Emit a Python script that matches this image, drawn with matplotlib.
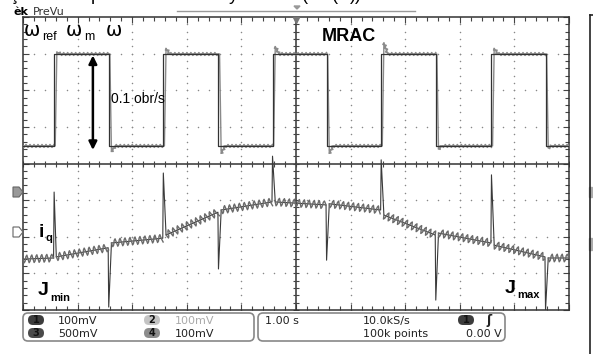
import matplotlib
matplotlib.use("Agg")
import matplotlib.pyplot as plt
import numpy as np
from matplotlib.patches import FancyBboxPatch, Polygon, Rectangle
from matplotlib.transforms import Affine2D

W, H = 593, 354

# speed traces (divisions), edges in s (1 s/div)
edges = [0.57, 1.57, 2.57, 3.58, 4.57, 5.56, 6.56, 7.56, 8.58, 9.57]
w_low = 0.48
w_high = 2.99
w_ref_t = [0.0] + edges + [10.0]
w_ref_v = [0.48, 2.99, 0.48, 2.99, 0.48, 2.99, 0.48, 2.99, 0.48, 2.99, 0.48, 0.48]
# overshoot of measured speed after each edge
w_over = [0.05, -0.15, 0.15, -0.2, 0.2, -0.2, 0.3, -0.08, 0.15, -0.05]

# iq trace (divisions): baseline, spike peak, baseline after each edge
iq_t = [0, 0.56, 0.57, 0.61, 1.56, 1.57, 1.62, 2.56, 2.57, 2.62, 3.57, 3.58, 3.63,
        4.56, 4.57, 4.62, 5.55, 5.56, 5.61, 6.55, 6.56, 6.61, 7.55, 7.56, 7.61,
        8.57, 8.58, 8.63, 9.56, 9.57, 9.62, 10]
iq_v = [-2.61, -2.58, -0.78, -2.55, -2.30, -3.92, -2.17, -2.04, -0.26, -1.95, -1.33, -2.88, -1.27,
        -1.05, 0.2, -1.05, -1.13, -2.64, -1.10, -1.27, 0.10, -1.41, -1.95, -3.73, -1.90,
        -2.17, -0.31, -2.23, -2.55, -4.0, -2.58, -2.58]

fig = plt.figure(figsize=(W / 100, H / 100), dpi=100)
px = Affine2D().scale(1 / W, -1 / H).translate(0, 1) + fig.transFigure

ax = fig.add_axes([23 / W, 1 - 310 / H, 546 / W, 293 / H])
ax.set_xlim(0, 10)
ax.set_ylim(-4, 4)
ax.set_xticks(np.arange(0, 11, 1))
ax.set_yticks(np.arange(-4, 5, 1))
ax.set_xticks(np.arange(0, 10.01, 0.2), minor=True)
ax.set_yticks(np.arange(-4, 4.01, 0.2), minor=True)
ax.tick_params(which="both", direction="in", top=True, right=True,
               labelbottom=False, labelleft=False, color="#444", width=0.8)
ax.tick_params(which="major", length=4)
ax.tick_params(which="minor", length=3)
for s in ax.spines.values():
    s.set_color("#333")
    s.set_linewidth(1.1)

# dotted graticule
for gx in [1, 2, 3, 4, 6, 7, 8, 9]:
    yy = np.arange(-4, 4.01, 0.2)
    ax.scatter(np.full_like(yy, gx), yy, s=1.2, color="#888", lw=0, zorder=1)
for gy in [-3, -2, -1, 1, 2, 3]:
    xx = np.arange(0, 10.01, 0.2)
    ax.scatter(xx, np.full_like(xx, gy), s=1.2, color="#888", lw=0, zorder=1)
ax.axhline(0, color="#333", lw=1.1, zorder=2)
ax.axvline(5, color="#333", lw=1.1, zorder=2)
xx = np.arange(0, 10.01, 0.2)
ax.plot(xx, np.zeros_like(xx), ls="none", marker="|", ms=5, mew=0.8, color="#444", zorder=2)
yy = np.arange(-4, 4.01, 0.2)
ax.plot(np.full_like(yy, 5), yy, ls="none", marker="_", ms=5, mew=0.8, color="#444", zorder=2)
ax.plot([5], [3.93], marker="v", ms=5, color="#777", clip_on=False, zorder=5)

# measured speed (grey); flat parts get the ripple
wt, wv = [0.0], [w_low]
ft, fv = [0.0], [w_low]
lev = w_low
for e, o in zip(edges, w_over):
    new = w_high if lev == w_low else w_low
    wt += [e + 0.02, e + 0.05, e + 0.12]
    wv += [lev, new + o, new]
    ft += [e, np.nan, e + 0.05, e + 0.12]
    fv += [lev, np.nan, new + o, new]
    lev = new
wt.append(10.0)
wv.append(lev)
ft.append(10.0)
fv.append(lev)
ax.plot(wt, wv, color="#8a8a8a", lw=1.0, zorder=3)
lf, = ax.plot(ft, fv, color="#8a8a8a", lw=1.0, zorder=3)
lf.set_sketch_params(scale=1.5, length=4, randomness=1)
ax.step(w_ref_t, w_ref_v, where="post", color="#333", lw=0.9, zorder=4)

# iq: thin full trace plus rippled baseline (spike peaks masked)
iq_flat = np.array(iq_v, dtype=float)
iq_flat[2:len(iq_flat) - 1:3] = np.nan
ax.plot(iq_t, iq_v, color="#3a3a3a", lw=0.8, zorder=3)
lb, = ax.plot(iq_t, iq_flat, color="#6a6a6a", lw=1.0, zorder=3)
lb.set_sketch_params(scale=4.0, length=5, randomness=1)

ax.annotate("", xy=(1.28, 2.95), xytext=(1.28, 0.37),
            arrowprops=dict(arrowstyle="<|-|>", color="black", lw=1.8, mutation_scale=12,
                            shrinkA=0, shrinkB=0), zorder=6)

def t(x, y, s, **kw):
    fig.text(x, y, s, transform=px, va="baseline", **kw)

SANS = "Liberation Sans"
t(24, 36, "ω", fontsize=14, family="DejaVu Sans")
t(42, 40, "ref", fontsize=9, family=SANS)
t(66, 36, "ω", fontsize=14, family="DejaVu Sans")
t(84, 40, "m", fontsize=9, family=SANS)
t(106, 36, "ω", fontsize=14, family="DejaVu Sans")
t(322, 41, "MRAC", fontsize=13, weight="bold", family=SANS)
t(111, 103, "0.1 obr/s", fontsize=10, family=SANS)
t(39, 237, "i", fontsize=14, weight="bold", family=SANS)
t(45, 241, "q", fontsize=8, weight="bold", family=SANS)
t(38, 295, "J", fontsize=14, weight="bold", family=SANS)
t(50, 301, "min", fontsize=8, weight="bold", family=SANS)
t(505, 293, "J", fontsize=14, weight="bold", family=SANS)
t(517, 298, "max", fontsize=8, weight="bold", family=SANS)

# header
t(13, 15, "èk", fontsize=8, weight="bold", family="DejaVu Sans")
t(33, 15, "PreVu", fontsize=8, family="DejaVu Sans", color="#333")
for x, s in [(9, "ç"), (91, "p"), (229, "y"), (302, "("), (332, "("), (350, "))")]:
    t(x, 0, s, fontsize=13, family=SANS)
fig.add_artist(plt.Line2D([177, 415], [11, 11], transform=px, color="#999", lw=1))
fig.add_artist(Polygon([[294, 6], [300, 6], [297, 9]], closed=True, transform=px, color="#999"))

# channel markers on the left
fig.add_artist(Polygon([[13, 187], [19, 187], [23, 192], [19, 197], [13, 197]], closed=True,
                       transform=px, facecolor="#999", edgecolor="#666", lw=0.8))
fig.add_artist(Polygon([[13, 227], [19, 227], [23, 232], [19, 237], [13, 237]], closed=True,
                       transform=px, facecolor="white", edgecolor="#666", lw=0.8))

# right page border
fig.add_artist(plt.Line2D([590, 590], [15, 354], transform=px, color="#222", lw=1.2))
fig.add_artist(plt.Line2D([590, 593], [15, 15], transform=px, color="#222", lw=1.2))
fig.add_artist(Rectangle((589, 187), 3, 10, transform=px, color="#aaa"))
fig.add_artist(Rectangle((589, 238), 3, 12, transform=px, color="#aaa"))

# status bar
for x0, x1 in [(23, 254), (258, 505)]:
    fig.add_artist(FancyBboxPatch((x0, 313), x1 - x0, 28, boxstyle="round,pad=0,rounding_size=5",
                                  transform=px, facecolor="none", edgecolor="#888", lw=1.2))

def badge(xc, yc, num, fc):
    fig.add_artist(FancyBboxPatch((xc - 8, yc - 5), 16, 10, boxstyle="round,pad=0,rounding_size=5",
                                  transform=px, facecolor=fc, edgecolor="none"))
    fig.text(xc, yc, num, transform=px, ha="center", va="center", fontsize=7,
             weight="bold", color="#111", family="DejaVu Sans")

MONO = "DejaVu Sans"
badge(36, 320, "1", "#3c3c3c")
badge(36, 333, "3", "#4a4a4a")
badge(152, 320, "2", "#c4c4c4")
badge(152, 333, "4", "#8c8c8c")
t(58, 324, "100mV", fontsize=8, family=MONO, color="#222")
t(58, 337, "500mV", fontsize=8, family=MONO, color="#222")
t(175, 324, "100mV", fontsize=8, family=MONO, color="#aaa")
t(175, 337, "100mV", fontsize=8, family=MONO, color="#222")
t(265, 324, "1.00 s", fontsize=8, family=MONO, color="#222")
t(363, 324, "10.0kS/s", fontsize=8, family=MONO, color="#222")
t(363, 337, "100k points", fontsize=8, family=MONO, color="#222")
badge(466, 320, "1", "#3c3c3c")
t(486, 324, "ʃ", fontsize=9, weight="bold", family=MONO, color="#222")
t(502, 337, "0.00 V", fontsize=8, family=MONO, color="#222", ha="right")

fig.savefig("out.png", dpi=100)
